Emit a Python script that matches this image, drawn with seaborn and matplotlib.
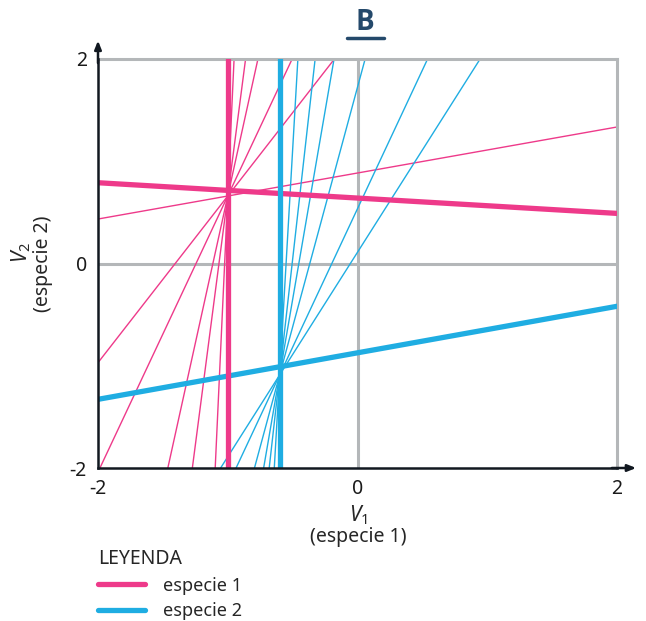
import numpy as np
import pandas as pd
import matplotlib
matplotlib.use("Agg")
import matplotlib.pyplot as plt
import seaborn as sns

# colores
pink = "#ee3a8a"
blue = "#1fade2"
grey = "#b4b7b9"
navy = "#24496b"

v_lim = [-2, 2]
ticks = [-2, 0, 2]
tick_labels = ["-2", "0", "2"]

# lineas finas: punto comun + pendientes
pink_center = (-1.0, 0.66)
pink_slopes = [27.5, 9.75, 5.76, 2.70, 1.63, 0.225]
blue_center = (-0.6, -1.09)
blue_slopes = [22.0, 11.3, 7.37, 4.69, 2.71, 2.0]

# lineas gruesas: vertical + recta con pendiente
pink_vert = -1.0
pink_point = (-1.0, 0.715)
pink_slope = -0.075
blue_vert = -0.6
blue_point = (-0.6, -1.01)
blue_slope = 0.2275

sns.set_style("white")
plt.rcParams['font.family'] = ['Noto Sans', 'DejaVu Sans']
plt.rcParams['mathtext.fontset'] = 'custom'
plt.rcParams['mathtext.rm'] = 'Noto Sans'
plt.rcParams['mathtext.it'] = 'Noto Sans:italic'

fig = plt.figure(figsize=(6.46, 6.21), dpi=100)
ax = fig.add_axes([98/646, 1-468/621, 519/646, 409/621])

def thick_df(point, slope):
    x = np.array(v_lim, dtype=float)
    return pd.DataFrame({'x': x, 'y': point[1] + slope*(x - point[0])})

# grid gris
ax.axhline(0, color=grey, lw=2.2, zorder=1)
ax.axvline(0, color=grey, lw=2.2, zorder=1)

for s in pink_slopes:
    ax.axline(pink_center, slope=s, color=pink, lw=1.0, zorder=2)
for s in blue_slopes:
    ax.axline(blue_center, slope=s, color=blue, lw=1.0, zorder=2)

sns.lineplot(data=thick_df(pink_point, pink_slope), x='x', y='y', color=pink,
             lw=3.8, ax=ax, zorder=3, label='especie 1')
sns.lineplot(data=thick_df(blue_point, blue_slope), x='x', y='y', color=blue,
             lw=3.8, ax=ax, zorder=3, label='especie 2')
ax.axvline(pink_vert, color=pink, lw=3.8, zorder=4)
ax.axvline(blue_vert, color=blue, lw=3.8, zorder=4)

ax.set_xlim(v_lim)
ax.set_ylim(v_lim)
ax.set_xticks(ticks, tick_labels)
ax.set_yticks(ticks, tick_labels)
ax.tick_params(length=0, labelsize=14, colors='#1a1a1a', pad=8)
ax.set_xlabel('')
ax.set_ylabel('')

for side in ['top', 'right']:
    ax.spines[side].set_color(grey)
    ax.spines[side].set_linewidth(2.2)
for side in ['left', 'bottom']:
    ax.spines[side].set_color('#111820')
    ax.spines[side].set_linewidth(1.8)
    ax.spines[side].set_zorder(6)

# flechas de los ejes
arrow = dict(arrowstyle='-|>,head_length=0.5,head_width=0.2', color='#111820', lw=1.8,
             shrinkA=0, shrinkB=0)
ax.annotate('', xy=(0, 1.045), xytext=(0, 0.99), xycoords='axes fraction',
            arrowprops=arrow, annotation_clip=False)
ax.annotate('', xy=(1.037, 0), xytext=(0.99, 0), xycoords='axes fraction',
            arrowprops=arrow, annotation_clip=False)

# titulo
fig.text(365/646, 1-22/621, 'B', ha='center', va='center', fontsize=20,
         fontweight='bold', color=navy, family=['Open Sans', 'DejaVu Sans'])
fig.add_artist(plt.Line2D([347/646, 384/646], [1-38/621, 1-38/621], color=navy, lw=2.5))

# etiquetas de ejes
fig.text(358/646, 1-515/621, r'$V_1$', ha='center', va='center', fontsize=15)
fig.text(358/646, 1-537/621, '(especie 1)', ha='center', va='center', fontsize=14)
fig.text(21/646, 1-252/621, r'$V_2$', ha='center', va='center', fontsize=15, rotation=90)
fig.text(43/646, 1-264/621, '(especie 2)', ha='center', va='center', fontsize=14, rotation=90)

# leyenda
leg = ax.legend(title='LEYENDA', loc='upper left', bbox_to_anchor=(98/646, 1-549/621),
                bbox_transform=fig.transFigure, frameon=False, fontsize=13,
                title_fontsize=14, handlelength=2.6, handletextpad=1.0,
                labelspacing=0.42, alignment='left', borderaxespad=0, borderpad=0)
for line in leg.get_lines():
    line.set_linewidth(3.8)

fig.savefig('out.png', dpi=100)
